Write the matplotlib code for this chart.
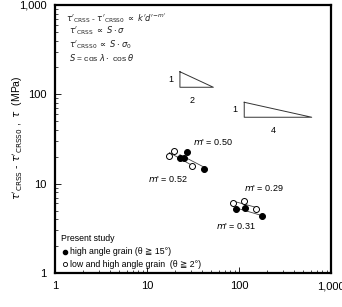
import numpy as np
import matplotlib.pyplot as plt
from matplotlib.ticker import FixedLocator, FuncFormatter, LogLocator, NullFormatter

# grain size d' (um) and stress (MPa)
d_hi_1 = [22.8, 25.1, 27.4, 42.0]
s_hi_1 = [19.4, 19.4, 22.5, 14.6]
d_lo_1 = [17.5, 19.5, 30.8]
s_lo_1 = [20.4, 23.4, 15.7]

d_hi_2 = [92, 116, 177]
s_hi_2 = [5.17, 5.3, 4.31]
d_lo_2 = [86.7, 114, 152]
s_lo_2 = [6.08, 6.45, 5.21]

# slope triangles: (x0, x1, y_bottom, y_top), label run
tri1 = (22.8, 52.6, 120, 179)
tri2 = (114, 617, 55.4, 81.5)

plt.rcParams['font.family'] = ['Liberation Sans', 'DejaVu Sans']
plt.rcParams['mathtext.fontset'] = 'dejavusans'

fig = plt.figure(figsize=(3.42, 3.07), dpi=100)
ax = fig.add_axes([55/342, 34/307, 276/342, 268/307])
ax.set_xscale('log')
ax.set_yscale('log')
ax.set_xlim(1, 1000)
ax.set_ylim(1, 1000)


def fit_line(xs, ys):
    p = np.polyfit(np.log10(xs), np.log10(ys), 1)
    xx = np.array([min(xs), max(xs)])
    ax.plot(xx, 10**np.polyval(p, np.log10(xx)), color='#444444', lw=0.6, zorder=1)


for xs, ys in [(d_hi_1, s_hi_1), (d_lo_1, s_lo_1), (d_hi_2, s_hi_2), (d_lo_2, s_lo_2)]:
    fit_line(xs, ys)

for xs, ys in [(d_hi_1, s_hi_1), (d_hi_2, s_hi_2)]:
    ax.plot(xs, ys, 'o', ms=4.3, mfc='black', mec='black', mew=0.7, zorder=3)
for xs, ys in [(d_lo_1, s_lo_1), (d_lo_2, s_lo_2)]:
    ax.plot(xs, ys, 'o', ms=4.3, mfc='white', mec='black', mew=0.7, zorder=2)

for (x0, x1, yb, yt), run in [(tri1, '2'), (tri2, '4')]:
    ax.plot([x0, x0, x1, x0], [yt, yb, yb, yt], color='#333333', lw=0.7)
    ax.text(x0 * 0.85, np.sqrt(yb * yt), '1', ha='right', va='center', fontsize=6.5)
    ax.text(np.sqrt(x0 * x1) * 0.9, yb * 0.8, run, ha='center', va='top', fontsize=6.5)

ax.text(32, 25.5, "$m$' = 0.50", fontsize=6.5, ha='left', va='bottom')
ax.text(10.3, 11.2, "$m$' = 0.52", fontsize=6.5, ha='left', va='center')
ax.text(113, 7.8, "$m$' = 0.29", fontsize=6.5, ha='left', va='bottom')
ax.text(56, 3.4, "$m$' = 0.31", fontsize=6.5, ha='left', va='center')

eqs = [r"$\tau'_{\rm CRSS}$ - $\tau'_{\rm CRSS0}$ $\propto$ $k'd'^{-m'}$",
       r"$\tau'_{\rm CRSS}$ $\propto$ $S\cdot\sigma$",
       r"$\tau'_{\rm CRSS0}$ $\propto$ $S\cdot\sigma_0$",
       r"$S$ = cos $\lambda\cdot$ cos $\theta$"]
for i, t in enumerate(eqs):
    ax.text(0.04 if i == 0 else 0.05, 0.953 - i * 0.05, t, transform=ax.transAxes,
            fontsize=6, ha='left', va='center', color='#222222')

ax.text(0.02, 0.13, 'Present study', transform=ax.transAxes, fontsize=6.3, va='center')
ax.plot([0.035], [0.08], 'o', ms=3, mfc='black', mec='black', transform=ax.transAxes)
ax.text(0.055, 0.08, 'high angle grain (θ ≧ 15°)', transform=ax.transAxes,
        fontsize=6.3, va='center')
ax.plot([0.035], [0.032], 'o', ms=3, mfc='white', mec='black', mew=0.6, transform=ax.transAxes)
ax.text(0.055, 0.032, 'low and high angle grain  (θ ≧ 2°)', transform=ax.transAxes,
        fontsize=6.3, va='center')

fmt = FuncFormatter(lambda v, p: f'{int(v):,}')
for axis in (ax.xaxis, ax.yaxis):
    axis.set_major_locator(FixedLocator([1, 10, 100, 1000]))
    axis.set_major_formatter(fmt)
    axis.set_minor_locator(LogLocator(base=10, subs=np.arange(2, 10)))
    axis.set_minor_formatter(NullFormatter())
ax.tick_params(which='both', direction='in', top=False, right=False, labelsize=8)
ax.tick_params(which='major', length=4, width=0.6, pad=6)
ax.tick_params(which='minor', length=2.5, width=0.5)
for s in ax.spines.values():
    s.set_linewidth(1.6)

fig.text(18/342, 0.55, r"$\tau'_{\rm CRSS}$ - $\tau'_{\rm CRSS0}$ ,  $\tau$  (MPa)",
         rotation=90, ha='center', va='center', fontsize=7.5)

fig.savefig('out.png', dpi=100)
